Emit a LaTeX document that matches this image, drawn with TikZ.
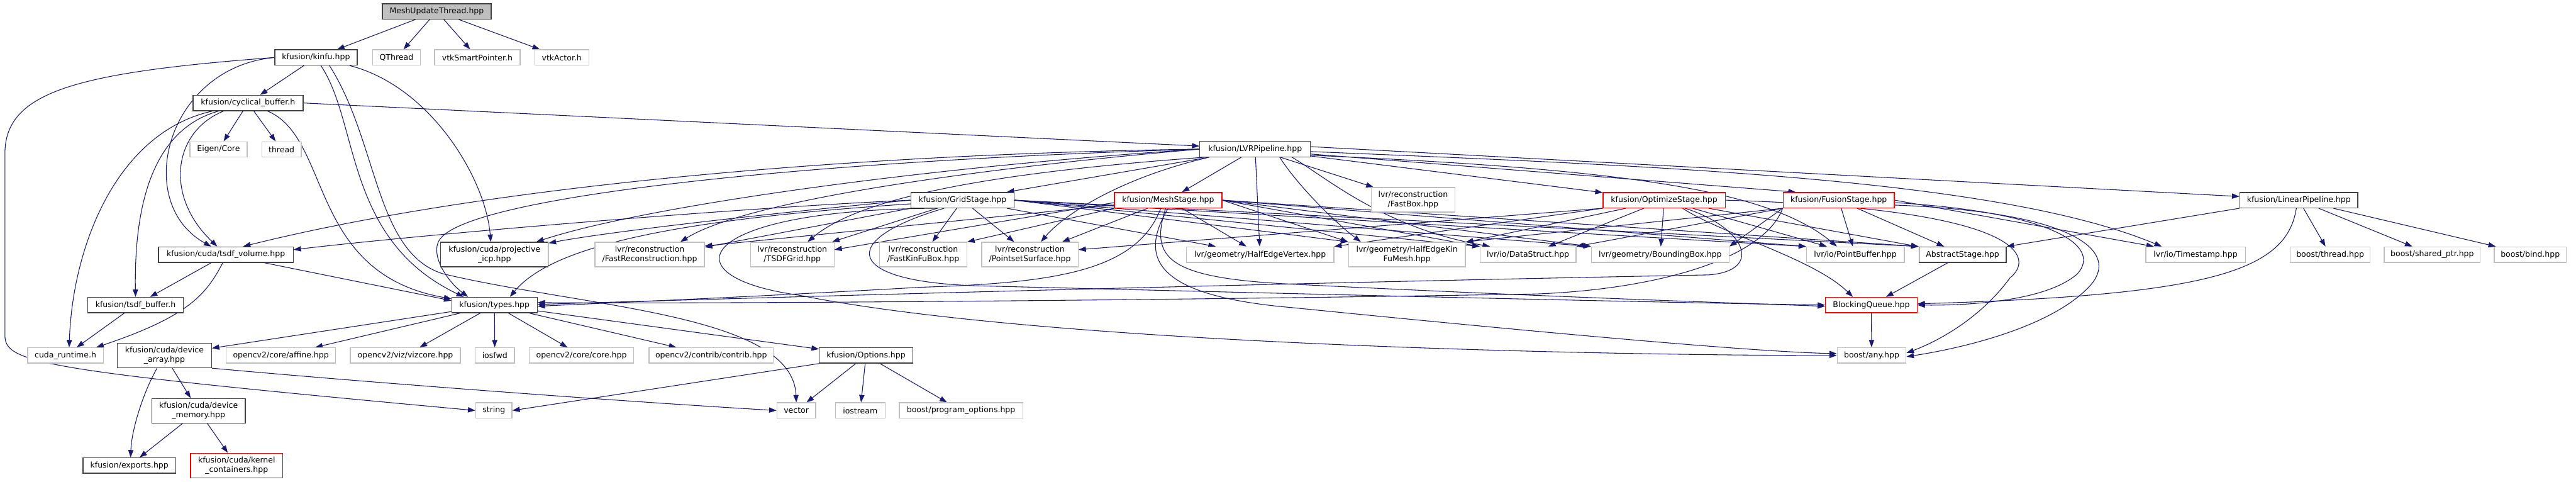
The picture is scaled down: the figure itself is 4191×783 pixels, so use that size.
\documentclass[tikz,border=0pt]{standalone}
\usepackage{fontspec}
\setmainfont{DejaVu Sans}
\usetikzlibrary{arrows.meta,backgrounds}
\definecolor{edgeblue}{HTML}{191970}
\definecolor{extgray}{HTML}{BFBFBF}
\definecolor{boxdark}{HTML}{404040}
\begin{document}
\begin{tikzpicture}[x=1pt, y=-1pt, >={Triangle[length=12pt,width=8.5pt]},
        font=\fontsize{12.8pt}{15.5pt}\selectfont,
        knode/.style={rectangle, draw=boxdark, line width=1.4pt, fill=white, inner sep=0pt, minimum height=25pt, align=center},
        xnode/.style={knode, draw=extgray},
        tnode/.style={knode, draw=red},
        rnode/.style={knode, fill=extgray},
        two/.style={minimum height=40pt},
        dep/.style={->, draw=edgeblue, line width=1.1pt}]
        \useasboundingbox (0,0) rectangle (4191,783);
        % ---- top ----
        \node[rnode, minimum width=177] (root) at (710.5,18.5) {MeshUpdateThread.hpp};
        \node[knode, minimum width=134] (kinfu) at (514,93.5) {kfusion/kinfu.hpp};
        \node[xnode, minimum width=78] (qthread) at (645,93.5) {QThread};
        \node[xnode, minimum width=139] (vtksp) at (776.5,93.5) {vtkSmartPointer.h};
        \node[xnode, minimum width=88] (vtkactor) at (914,93.5) {vtkActor.h};
        \node[knode, minimum width=179] (cycbuf) at (403.5,167.5) {kfusion/cyclical\_buffer.h};
        \node[xnode, minimum width=93] (eigen) at (355.5,243) {Eigen/Core};
        \node[xnode, minimum width=64] (thread) at (458,243) {thread};
        \node[knode, minimum width=180] (lvrpipe) at (2042,242.5) {kfusion/LVRPipeline.hpp};
        % ---- stages ----
        \node[knode, minimum width=168] (gridstage) at (1566,325.5) {kfusion/GridStage.hpp};
        \node[tnode, minimum width=175] (meshstage) at (1900.5,325.5) {kfusion/MeshStage.hpp};
        \node[xnode, two, minimum width=136] (fastbox) at (2299,325) {lvr/reconstruction\\/FastBox.hpp};
        \node[tnode, minimum width=199] (optstage) at (2707.5,325.5) {kfusion/OptimizeStage.hpp};
        \node[tnode, minimum width=181] (fusionstage) at (2991.5,325.5) {kfusion/FusionStage.hpp};
        \node[knode, minimum width=192] (linpipe) at (3740,325.5) {kfusion/LinearPipeline.hpp};
        % ---- middle row ----
        \node[knode, minimum width=219] (tsdfvol) at (367.5,414) {kfusion/cuda/tsdf\_volume.hpp};
        \node[knode, two, minimum width=175] (projicp) at (804.5,414) {kfusion/cuda/projective\\\_icp.hpp};
        \node[xnode, two, minimum width=178] (fastrec) at (1057,414) {lvr/reconstruction\\/FastReconstruction.hpp};
        \node[xnode, two, minimum width=136] (tsdfgrid) at (1289,414) {lvr/reconstruction\\/TSDFGrid.hpp};
        \node[xnode, two, minimum width=142] (fastkinfubox) at (1502,414) {lvr/reconstruction\\/FastKinFuBox.hpp};
        \node[xnode, two, minimum width=157] (pointset) at (1675.5,414) {lvr/reconstruction\\/PointsetSurface.hpp};
        \node[xnode, minimum width=240] (hevertex) at (2050,414) {lvr/geometry/HalfEdgeVertex.hpp};
        \node[xnode, two, minimum width=190] (hekinfu) at (2289,414) {lvr/geometry/HalfEdgeKin\\FuMesh.hpp};
        \node[xnode, minimum width=156] (datastruct) at (2486,414) {lvr/io/DataStruct.hpp};
        \node[xnode, minimum width=224] (bbox) at (2701,414) {lvr/geometry/BoundingBox.hpp};
        \node[xnode, minimum width=159] (pointbuf) at (3018.5,414) {lvr/io/PointBuffer.hpp};
        \node[knode, minimum width=142] (abstage) at (3193,414) {AbstractStage.hpp};
        \node[xnode, minimum width=162] (timestamp) at (3572,414) {lvr/io/Timestamp.hpp};
        \node[xnode, minimum width=130] (bthread) at (3791,414) {boost/thread.hpp};
        \node[xnode, minimum width=156] (bshared) at (3957,414) {boost/shared\_ptr.hpp};
        \node[xnode, minimum width=117] (bbind) at (4116.5,414) {boost/bind.hpp};
        % ---- lower rows ----
        \node[knode, minimum width=155] (tsdfbuf) at (220.5,496) {kfusion/tsdf\_buffer.h};
        \node[knode, minimum width=139] (types) at (804.5,496) {kfusion/types.hpp};
        \node[tnode, minimum width=149] (blockq) at (3044.5,496) {BlockingQueue.hpp};
        \node[xnode, minimum width=123] (cudart) at (106.5,578) {cuda\_runtime.h};
        \node[knode, two, minimum width=153] (devarr) at (267.5,578) {kfusion/cuda/device\\\_array.hpp};
        \node[xnode, minimum width=178] (affine) at (457,578) {opencv2/core/affine.hpp};
        \node[xnode, minimum width=179] (vizcore) at (659.5,578) {opencv2/viz/vizcore.hpp};
        \node[xnode, minimum width=64] (iosfwd) at (805,578) {iosfwd};
        \node[xnode, minimum width=170] (core) at (946,578) {opencv2/core/core.hpp};
        \node[xnode, minimum width=202] (contrib) at (1157,578) {opencv2/contrib/contrib.hpp};
        \node[knode, minimum width=152] (options) at (1409,578) {kfusion/Options.hpp};
        \node[xnode, minimum width=112] (bany) at (3045,578) {boost/any.hpp};
        \node[knode, two, minimum width=152] (devmem) at (323,668) {kfusion/cuda/device\\\_memory.hpp};
        \node[xnode, minimum width=59] (string) at (803.5,667.5) {string};
        \node[xnode, minimum width=63] (vector) at (1295.5,667.5) {vector};
        \node[xnode, minimum width=81] (iostream) at (1399.5,667.5) {iostream};
        \node[xnode, minimum width=201] (bprogopt) at (1563.5,667.5) {boost/program\_options.hpp};
        \node[knode, minimum width=151] (exports) at (210.5,757) {kfusion/exports.hpp};
        \node[tnode, two, minimum width=150] (kernelc) at (385,757) {kfusion/cuda/kernel\\\_containers.hpp};

        \begin{pgfonlayer}{background}
        \fill[white] (0,0) rectangle (4191,783);
        % ---- root and kinfu ----
        \foreach \b in {kinfu,qthread,vtksp,vtkactor}
          \draw[dep] (root) -- (\b);
        \draw[dep] (kinfu) -- (cycbuf);
        \draw[dep] (kinfu.west) .. controls (270,110) and (215,330) .. ([xshift=-24]tsdfvol.north);
        \draw[dep] (kinfu.west) .. controls (120,118) and (8,150) .. (8,250) -- (8,545) .. controls (8,590) and (60,602) .. (string.west);
        \draw[dep] ([xshift=8]kinfu.south) .. controls (585,200) and (560,390) .. ([xshift=-50]types.north);
        \draw[dep] ([xshift=55]kinfu.south) .. controls (700,140) and (790,290) .. ([xshift=-6]projicp.north);
        \draw[dep] ([xshift=22]kinfu.south) .. controls (615,230) and (610,410) .. (720,445) .. controls (950,500) and (1290,510) .. (vector.north);
        % ---- cyclical buffer ----
        \foreach \b in {eigen,thread}
          \draw[dep] (cycbuf) -- (\b);
        \draw[dep] ([xshift=-40]cycbuf.south) .. controls (280,215) and (268,320) .. ([xshift=-14]tsdfvol.north);
        \draw[dep] ([xshift=-48]cycbuf.south) .. controls (250,210) and (218,330) .. (tsdfbuf.north);
        \draw[dep] ([xshift=-58]cycbuf.south) .. controls (190,215) and (118,400) .. ([xshift=6]cudart.north);
        \draw[dep] ([xshift=32]cycbuf.south) .. controls (540,225) and (500,445) .. ([yshift=-3]types.north west);
        \draw[dep] (cycbuf.east) -- ([yshift=5]lvrpipe.west);
        % ---- cuda side ----
        \draw[dep] (tsdfvol) -- (tsdfbuf);
        \draw[dep] ([xshift=-5]tsdfvol.south) .. controls (335,480) and (305,515) .. ([xshift=-12]cudart.north east);
        \draw[dep] ([xshift=62]tsdfvol.south) -- ([yshift=-6]types.north west);
        \draw[dep] (tsdfbuf) -- (cudart);
        \draw[dep] ([xshift=-12]devarr.south) .. controls (232,640) and (214,700) .. ([xshift=2]exports.north);
        \draw[dep] (devarr) -- (devmem);
        \draw[dep] (devarr.south east) .. controls (600,622) and (1000,652) .. (vector.west);
        \foreach \b in {exports,kernelc}
          \draw[dep] (devmem) -- (\b);
        % ---- types and options ----
        \foreach \b in {devarr,affine,vizcore,iosfwd,core,contrib,options}
          \draw[dep] (types) -- (\b);
        \foreach \b in {vector,iostream,bprogopt}
          \draw[dep] (options) -- (\b);
        \draw[dep] (options.south west) -- (string.east);
        % ---- LVR pipeline ----
        \draw[dep] ([xshift=-75]lvrpipe.south) -- ([xshift=72]gridstage.north);
        \foreach \b in {meshstage,hevertex,fastbox,optstage}
          \draw[dep] (lvrpipe) -- (\b);
        \draw[dep] ([yshift=-8]lvrpipe.east) -- ([xshift=-70]fusionstage.north);
        \draw[dep] ([yshift=4]lvrpipe.east) -- ([yshift=6]linpipe.west);
        \draw[dep] ([yshift=-4]lvrpipe.east) .. controls (2700,270) and (3250,290) .. ([xshift=-55]timestamp.north);
        \draw[dep] ([yshift=-10]lvrpipe.east) .. controls (2650,275) and (2880,310) .. ([xshift=-30]pointbuf.north);
        \draw[dep] ([xshift=-75]lvrpipe.south) .. controls (1820,290) and (1730,350) .. ([xshift=18]pointset.north);
        \draw[dep] ([xshift=40]lvrpipe.south) .. controls (2110,300) and (2170,360) .. ([xshift=-75]hekinfu.north);
        \draw[dep] ([xshift=60]lvrpipe.south) .. controls (2160,290) and (2250,370) .. ([xshift=-62]datastruct.north);
        \draw[dep] (lvrpipe.west) .. controls (1400,250) and (800,300) .. ([xshift=28]tsdfvol.north);
        \draw[dep] (lvrpipe.west) .. controls (1300,262) and (760,320) .. (715,390) .. controls (700,413) and (725,455) .. ([xshift=-43]types.north);
        \draw[dep] (lvrpipe.west) .. controls (1500,272) and (1050,335) .. ([xshift=68]projicp.north);
        \draw[dep] (lvrpipe.west) .. controls (1500,282) and (1200,335) .. ([xshift=50]fastrec.north);
        \draw[dep] ([xshift=-82]lvrpipe.south) .. controls (1620,280) and (1400,320) .. ([xshift=25]tsdfgrid.north);
        % ---- grid stage ----
        \draw[dep] (gridstage.west) .. controls (1200,338) and (700,380) .. ([yshift=8]tsdfvol.east);
        \draw[dep] (gridstage.west) .. controls (1300,342) and (1000,375) .. ([yshift=-2]projicp.north east);
        \draw[dep] ([yshift=-6]gridstage.west) .. controls (1050,360) and (890,410) .. ([xshift=25]types.north);
        \draw[dep] (gridstage.south west) -- ([yshift=12]fastrec.east);
        \foreach \b in {tsdfgrid,fastkinfubox,pointset,hevertex}
          \draw[dep] (gridstage) -- (\b);
        \foreach \b in {hekinfu,datastruct,bbox,pointbuf,abstage}
          \draw[dep] (gridstage.east) -- (\b.north west);
        \draw[dep] ([xshift=-30]gridstage.south) .. controls (1360,390) and (1370,460) .. (1600,465) .. controls (2200,480) and (2700,492) .. (blockq.west);
        \draw[dep] ([xshift=-40]gridstage.south) .. controls (1130,340) and (1080,450) .. (1300,480) .. controls (1700,560) and (2600,578) .. (bany.west);
        % ---- mesh stage ----
        \foreach \b in {pointset,hevertex}
          \draw[dep] (meshstage) -- (\b);
        \draw[dep] (meshstage.south west) -- (fastkinfubox.north east);
        \draw[dep] ([yshift=-4]meshstage.west) -- ([yshift=8]tsdfgrid.east);
        \draw[dep] ([yshift=-8]meshstage.west) -- ([yshift=14]fastrec.east);
        \draw[dep] ([xshift=-12]meshstage.south) .. controls (1850,440) and (1720,460) .. (1500,467) .. controls (1200,484) and (1000,492) .. ([yshift=-2]types.east);
        \foreach \b in {hekinfu,datastruct,bbox,pointbuf,abstage}
          \draw[dep] (meshstage.east) -- (\b.north west);
        \draw[dep] ([xshift=-4]meshstage.south) .. controls (1870,420) and (1900,452) .. (2100,462) .. controls (2500,482) and (2800,492) .. ([yshift=-2]blockq.west);
        \draw[dep] (meshstage.south) .. controls (1855,415) and (1870,480) .. (2100,500) .. controls (2500,540) and (2850,572) .. ([yshift=3]bany.west);
        % ---- optimize stage ----
        \foreach \b in {bbox,hekinfu,datastruct,pointbuf,abstage}
          \draw[dep] (optstage) -- (\b);
        \draw[dep] (optstage.south west) -- (hevertex.north east);
        \draw[dep] (optstage.south west) -- ([yshift=8]pointset.east);
        \draw[dep] ([xshift=30]optstage.south) .. controls (2800,380) and (2950,420) .. ([xshift=-30]blockq.north);
        \draw[dep] ([xshift=34]optstage.south) .. controls (2840,370) and (2870,440) .. (2780,447) .. controls (2000,462) and (1200,485) .. ([yshift=1]types.east);
        \draw[dep] (optstage.east) .. controls (3300,340) and (3310,420) .. (3270,452) .. controls (3220,520) and (3150,556) .. ([yshift=4]bany.east);
        % ---- fusion stage ----
        \foreach \b in {pointbuf,abstage}
          \draw[dep] (fusionstage) -- (\b);
        \foreach \b in {bbox,datastruct,hekinfu}
          \draw[dep] (fusionstage.south west) -- (\b.north east);
        \draw[dep] (fusionstage.east) -- ([xshift=-68]timestamp.north);
        \draw[dep] ([yshift=-4]fusionstage.east) .. controls (3340,345) and (3420,400) .. (3380,445) .. controls (3330,490) and (3200,497) .. (blockq.east);
        \draw[dep] ([yshift=-8]fusionstage.east) .. controls (3380,345) and (3450,410) .. (3400,465) .. controls (3340,530) and (3200,565) .. ([yshift=-2]bany.east);
        \draw[dep] (fusionstage.south west) .. controls (2870,420) and (2700,470) .. (2500,478) .. controls (1800,490) and (1100,494) .. ([yshift=4]types.east);
        % ---- linear pipeline ----
        \draw[dep] (linpipe.south west) -- (abstage.north east);
        \draw[dep] ([xshift=-4]linpipe.south) .. controls (3720,440) and (3600,480) .. ([yshift=2]blockq.east);
        \foreach \b in {bthread,bshared,bbind}
          \draw[dep] (linpipe) -- (\b);
        % ---- queue ----
        \draw[dep] (abstage) -- (blockq);
        \draw[dep] (blockq) -- (bany);
        \end{pgfonlayer}
    \end{tikzpicture}
\end{document}
